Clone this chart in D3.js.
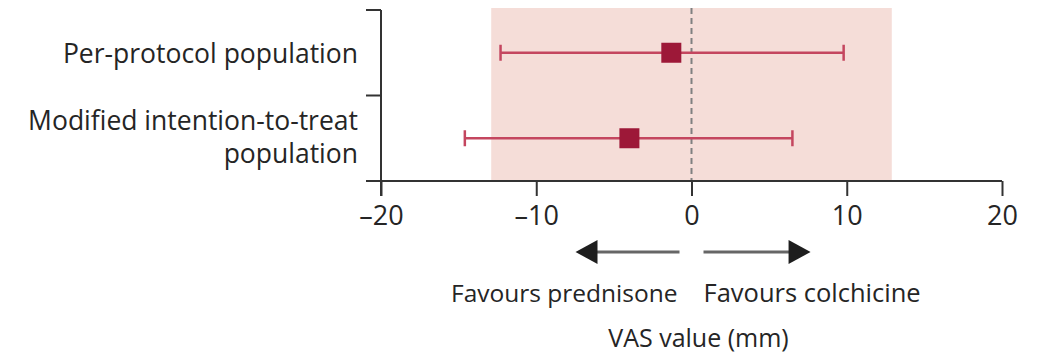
<!DOCTYPE html>
<html>
<head>
<meta charset="utf-8">
<script src="https://cdn.jsdelivr.net/npm/d3@7"></script>
<style>
  html, body { margin: 0; padding: 0; background: #fff; }
  svg { display: block; }
  text { font-family: "Open Sans", Lato, sans-serif; fill: #252525; }
</style>
</head>
<body>
<svg id="chart" width="1043" height="359"></svg>
<script>
// ---- data ----
const categories = ["Per-protocol population", "Modified intention-to-treat population"];
const labelLines = [["Per-protocol population"], ["Modified intention-to-treat", "population"]];
const estimates = [-1.3, -4.0];
const lowerCI = [-12.3, -14.6];
const upperCI = [9.8, 6.5];
const equivalenceMargin = [-12.9, 12.9];
const xTicks = [-20, -10, 0, 10, 20];
const xDomain = [-20, 20];
const favourLeft = "Favours prednisone";
const favourRight = "Favours colchicine";
const xTitle = "VAS value (mm)";

const svg = d3.select("#chart");
const x = d3.scaleLinear().domain(xDomain).range([381, 1002]);
const y = d3.scaleBand().domain(categories).range([10, 181]);
const yc = c => y(c) + y.bandwidth() / 2;
const axisY = y.range()[1];

// shaded equivalence region
svg.append("rect")
  .attr("x", x(equivalenceMargin[0]))
  .attr("y", 8)
  .attr("width", x(equivalenceMargin[1]) - x(equivalenceMargin[0]))
  .attr("height", axisY - 8)
  .attr("fill", "#f5ddd8");

// dashed zero line
svg.append("line")
  .attr("x1", x(0)).attr("x2", x(0))
  .attr("y1", 8).attr("y2", axisY)
  .attr("stroke", "#808080").attr("stroke-width", 2)
  .attr("stroke-dasharray", "6,4");

// x axis
const gx = svg.append("g").attr("transform", `translate(0,${axisY})`)
  .call(d3.axisBottom(x).tickValues(xTicks).tickSize(15).tickPadding(10)
    .tickFormat(d => d < 0 ? "\u2013" + Math.abs(d) : d));
gx.select(".domain").attr("stroke", "#333").attr("stroke-width", 2)
  .attr("d", `M${x(xDomain[0]) - 14},0H${x(xDomain[1])}`);
gx.selectAll(".tick line").attr("stroke", "#333").attr("stroke-width", 2);
gx.selectAll(".tick text").style("font-family", "'Open Sans', Lato, sans-serif")
  .style("font-size", "27px").attr("fill", "#252525");

// y axis (ticks at band boundaries)
const gy = svg.append("g").attr("transform", `translate(${x(xDomain[0])},0)`);
gy.append("line").attr("x1", 0).attr("x2", 0)
  .attr("y1", y.range()[0]).attr("y2", axisY + 15)
  .attr("stroke", "#333").attr("stroke-width", 2);
const bounds = [y.range()[0], y(categories[1]), axisY];
gy.selectAll("line.yt").data(bounds).join("line").attr("class", "yt")
  .attr("x1", -15).attr("x2", 0).attr("y1", d => d).attr("y2", d => d)
  .attr("stroke", "#333").attr("stroke-width", 2);

// category labels (baselines relative to band centre)
const baselineOffsets = [[10], [-8, 25]];
categories.forEach((c, i) => {
  const t = svg.append("text")
    .attr("text-anchor", "end")
    .style("font-size", "26.5px");
  labelLines[i].forEach((ln, j) => {
    t.append("tspan")
      .attr("x", 358)
      .attr("y", yc(c) + baselineOffsets[i][j])
      .text(ln);
  });
});

// CI lines & caps
const rows = categories.map((c, i) => ({c, est: estimates[i], lo: lowerCI[i], hi: upperCI[i]}));
const red = "#c4465f";
svg.selectAll("line.ci").data(rows).join("line").attr("class", "ci")
  .attr("x1", d => x(d.lo)).attr("x2", d => x(d.hi))
  .attr("y1", d => yc(d.c)).attr("y2", d => yc(d.c))
  .attr("stroke", red).attr("stroke-width", 2.5);
svg.selectAll("line.capl").data(rows).join("line").attr("class", "capl")
  .attr("x1", d => x(d.lo)).attr("x2", d => x(d.lo))
  .attr("y1", d => yc(d.c) - 8).attr("y2", d => yc(d.c) + 8)
  .attr("stroke", red).attr("stroke-width", 2.5);
svg.selectAll("line.caph").data(rows).join("line").attr("class", "caph")
  .attr("x1", d => x(d.hi)).attr("x2", d => x(d.hi))
  .attr("y1", d => yc(d.c) - 8).attr("y2", d => yc(d.c) + 8)
  .attr("stroke", red).attr("stroke-width", 2.5);
const sq = 20;
svg.selectAll("rect.est").data(rows).join("rect").attr("class", "est")
  .attr("x", d => x(d.est) - sq / 2).attr("y", d => yc(d.c) - sq / 2)
  .attr("width", sq).attr("height", sq)
  .attr("fill", "#9d1838");

// favour arrows
const ay = 252;
function arrow(x1, x2) {
  const dir = Math.sign(x2 - x1);
  const headLen = 22, headH = 12;
  svg.append("line").attr("x1", x1).attr("x2", x2 - dir * headLen + dir * 2)
    .attr("y1", ay).attr("y2", ay)
    .attr("stroke", "#666").attr("stroke-width", 3);
  svg.append("path")
    .attr("d", `M${x2},${ay}L${x2 - dir * headLen},${ay - headH}L${x2 - dir * headLen},${ay + headH}Z`)
    .attr("fill", "#1e1e1e");
}
arrow(x(0) - 12, x(-7.47));
arrow(x(0) + 12, x(7.67));

svg.append("text").attr("x", x(0) - 14).attr("y", 302)
  .attr("text-anchor", "end").style("font-size", "24.5px").text(favourLeft);
svg.append("text").attr("x", x(0) + 12).attr("y", 302)
  .attr("text-anchor", "start").style("font-size", "25.5px").text(favourRight);
svg.append("text").attr("x", x(0) + 7).attr("y", 347)
  .attr("text-anchor", "middle").style("font-size", "25px").text(xTitle);
</script>
</body>
</html>
